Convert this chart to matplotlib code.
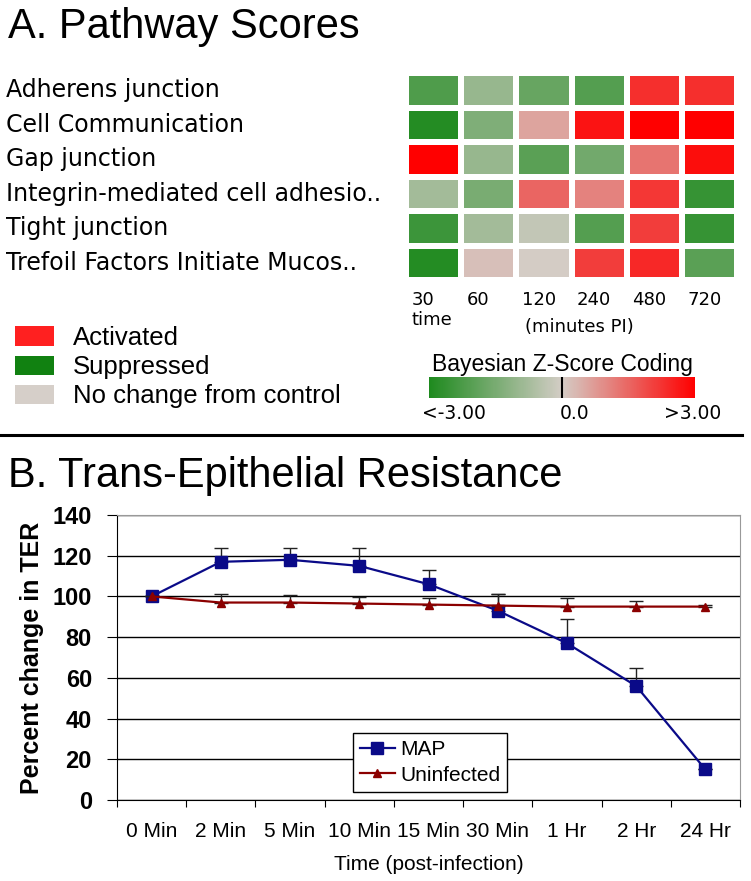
import numpy as np
import matplotlib
matplotlib.use("Agg")
import matplotlib.pyplot as plt
import matplotlib.transforms as mtransforms
from matplotlib.colors import LinearSegmentedColormap
from matplotlib.patches import Patch
from matplotlib.lines import Line2D

# --- panel A data ---
pathways = [
    "Adherens junction",
    "Cell Communication",
    "Gap junction",
    "Integrin-mediated cell adhesio..",
    "Tight junction",
    "Trefoil Factors Initiate Mucos..",
]
minutes = ["30", "60", "120", "240", "480", "720"]
zscores = [
    [-2.2, -1.0, -1.8, -2.1, 2.3, 2.3],
    [-2.9, -1.4, 0.6, 2.7, 3.0, 3.0],
    [3.0, -1.0, -2.0, -1.6, 1.3, 2.8],
    [-0.8, -1.5, 1.5, 1.1, 2.2, -2.6],
    [-2.5, -0.8, -0.3, -2.1, 2.1, -2.6],
    [-2.9, 0.2, 0.0, 2.1, 2.4, -2.0],
]
legend_labels = ["Activated", "Suppressed", "No change from control"]
legend_colors = ["#ff2020", "#118111", "#d6cfc9"]

# --- panel B data ---
times = ["0 Min", "2 Min", "5 Min", "10 Min", "15 Min", "30 Min", "1 Hr", "2 Hr", "24 Hr"]
map_ter = [100, 117, 118, 115, 106, 93, 77, 56, 15]
map_err = [0, 7, 6, 9, 7, 8, 12, 9, 0]
uninf_ter = [100, 97, 97, 96.5, 96, 95.5, 95, 95, 95]
uninf_err = [0, 4, 3.5, 3, 3, 5.5, 4, 3, 1]

W, H = 751, 881
fig = plt.figure(figsize=(W / 100, H / 100), dpi=100)


def box(l, t, r, b):
    return [l / W, 1 - b / H, (r - l) / W, (b - t) / H]


cmap = LinearSegmentedColormap.from_list("z", ["#1e8a1e", "#d4cdc6", "#ff0000"])

fig.text(8 / W, 1 - 38 / H, "A. Pathway Scores", fontsize=30,
         family="Liberation Sans", va="baseline")

ax = fig.add_axes(box(406, 73, 737, 280))
mesh = ax.pcolormesh(np.array(zscores), cmap=cmap, vmin=-3, vmax=3,
                     edgecolors="white", linewidth=3)
ax.set_xlim(0, 6)
ax.set_ylim(6, 0)
ax.set_axis_off()

trans = mtransforms.blended_transform_factory(fig.transFigure, ax.transData)
for i, name in enumerate(pathways):
    ax.text(6 / W, i + 0.5, name, transform=trans, ha="left", va="center",
            fontsize=17, family="DejaVu Sans")
for j, lab in enumerate(minutes):
    ax.text(j + 0.1, 6.58, lab, ha="left", va="center", fontsize=13, family="DejaVu Sans")
ax.text(0.1, 7.16, "time", ha="left", va="center", fontsize=13, family="DejaVu Sans")
ax.text(2.15, 7.35, "(minutes PI)", ha="left", va="center", fontsize=13, family="DejaVu Sans")

handles = [Patch(fc=c, ec="none") for c in legend_colors]
fig.legend(handles, legend_labels, loc="upper left", bbox_to_anchor=(15 / W, 1 - 326 / H),
           frameon=False, prop={"family": "Liberation Sans", "size": 18.5},
           borderpad=0, borderaxespad=0,
           handlelength=1.5, handleheight=0.78, handletextpad=0.75, labelspacing=0.2)

cax = fig.add_axes(box(429, 377, 695, 398))
cb = fig.colorbar(mesh, cax=cax, orientation="horizontal")
cb.set_ticks([])
cb.outline.set_visible(False)
cax.axvline(0, color="black", lw=1.5)
cax.set_title("Bayesian Z-Score Coding", fontsize=16.5, family="Liberation Sans", pad=4)
xt = cax.get_xaxis_transform()
cax.text(-3.15, -0.72, "<-3.00", ha="left", va="center", fontsize=13.5, family="DejaVu Sans",
         transform=xt)
cax.text(-0.05, -0.72, "0.0", ha="left", va="center", fontsize=13.5, family="DejaVu Sans",
         transform=xt)
cax.text(3.6, -0.72, ">3.00", ha="right", va="center", fontsize=13.5, family="DejaVu Sans",
         transform=xt)

fig.add_artist(Line2D([0, 742 / W], [1 - 435 / H] * 2, color="black", lw=2.2,
                      transform=fig.transFigure))

# --- panel B ---
fig.text(8 / W, 1 - 487 / H, "B. Trans-Epithelial Resistance", fontsize=30,
         family="Liberation Sans", va="baseline")

bx = fig.add_axes(box(117, 515, 740, 800))
xs = np.arange(len(times))
n = len(times)
bx.errorbar(xs, map_ter, yerr=[np.zeros(n), map_err], color="#0a0a88", marker="s", ms=9,
            lw=1.6, ecolor="#222222", elinewidth=1, capsize=5, capthick=1, zorder=3)
bx.errorbar(xs, uninf_ter, yerr=[np.zeros(n), uninf_err], color="#8b0000", marker="^", ms=6,
            lw=1.6, ecolor="#222222", elinewidth=1, capsize=5, capthick=1, zorder=4)

bx.set_xlim(-0.5, n - 0.5)
bx.set_ylim(0, 140)
bx.set_yticks(np.arange(0, 141, 20))
bx.yaxis.grid(True, color="black", lw=1)
bx.set_axisbelow(True)
bx.set_xticks(np.arange(-0.5, n, 1))
bx.set_xticklabels([])
bx.set_xticks(xs, minor=True)
bx.set_xticklabels(times, minor=True, fontsize=15, family="Liberation Sans")
bx.tick_params(axis="x", which="major", length=5, direction="out")
bx.tick_params(axis="x", which="minor", length=0, pad=16)
bx.tick_params(axis="y", length=7, pad=11, labelsize=17)
for t in bx.get_yticklabels():
    t.set_family("Liberation Sans")
    t.set_fontweight("bold")
for s in ("top", "right"):
    bx.spines[s].set_color("#999999")
bx.set_xlabel("Time (post-infection)", fontsize=15, family="Liberation Sans", labelpad=10)
bx.set_ylabel("Percent change in TER", fontsize=18, fontweight="bold",
              family="Liberation Sans", labelpad=6)

leg_handles = [
    Line2D([], [], color="#0a0a88", marker="s", ms=9, lw=1.6),
    Line2D([], [], color="#8b0000", marker="^", ms=6, lw=1.6),
]
leg = bx.legend(leg_handles, ["MAP", "Uninfected"], loc="upper left",
                bbox_to_anchor=(353 / W, 1 - 733 / H), bbox_transform=fig.transFigure,
                borderaxespad=0, fancybox=False, framealpha=1, edgecolor="black",
                prop={"family": "Liberation Sans", "size": 15},
                handlelength=1.65, handletextpad=0.25, borderpad=0.35, labelspacing=0.3)
leg.get_frame().set_linewidth(1)

fig.savefig("out.png", dpi=100)
